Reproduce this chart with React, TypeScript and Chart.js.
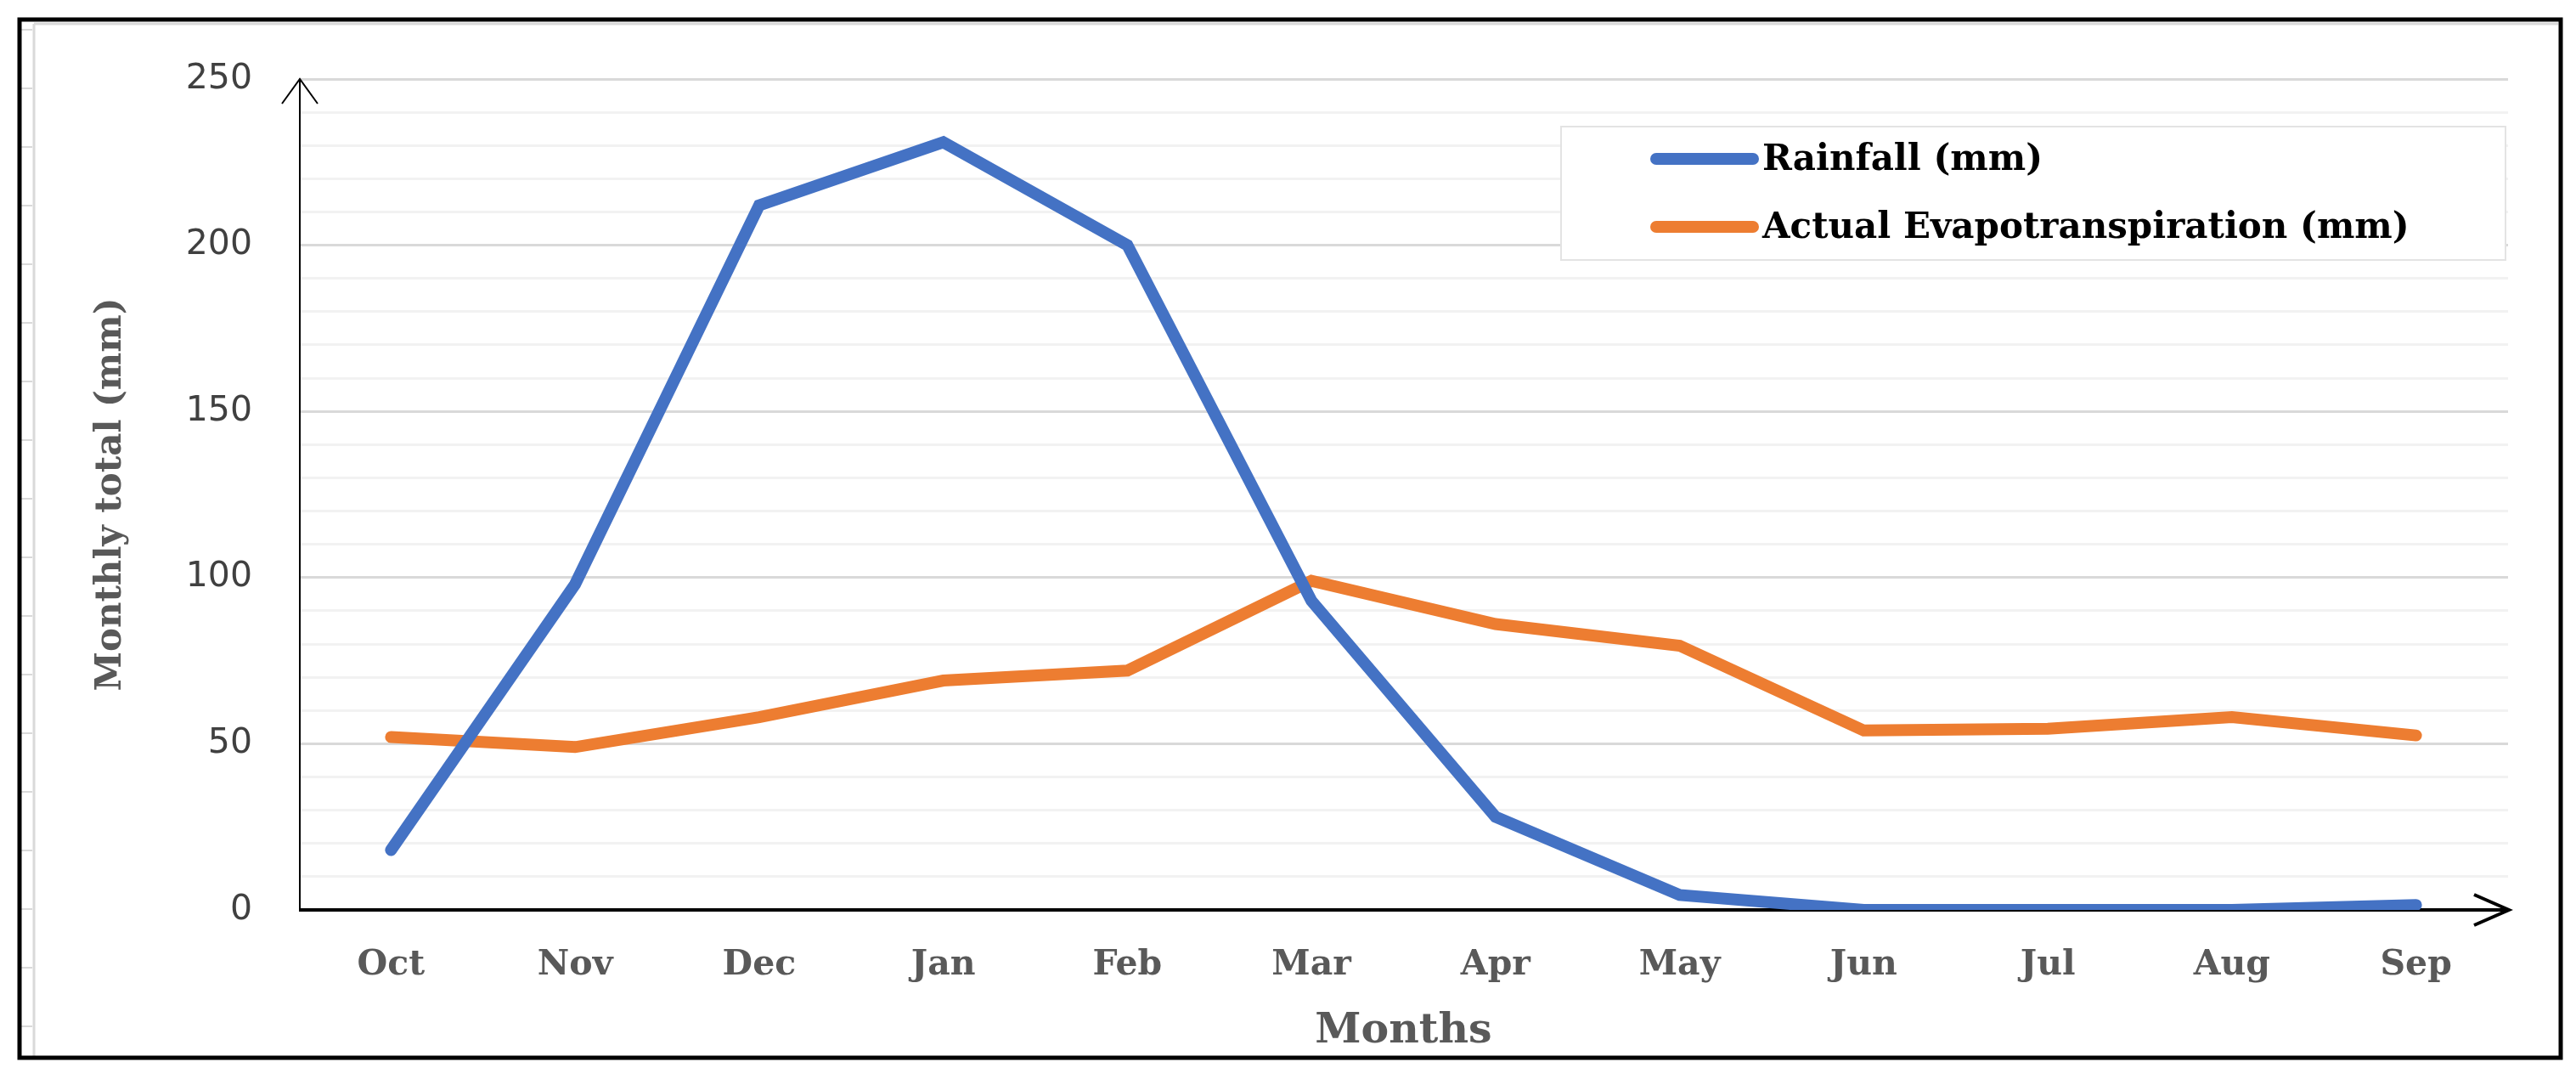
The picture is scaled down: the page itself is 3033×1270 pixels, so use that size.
import React, { useEffect, useRef } from "react";
import { Chart, registerables } from "chart.js";

Chart.register(...registerables);

const months = ["Oct", "Nov", "Dec", "Jan", "Feb", "Mar", "Apr", "May", "Jun", "Jul", "Aug", "Sep"];
const rainfall = [18, 98, 212, 231, 200, 93, 28, 4.5, 0, 0, 0, 1.5];
const evapotranspiration = [52, 49, 58, 69, 72, 99, 86, 79.5, 54, 54.5, 58, 52.5];
const seriesLabels = ["Rainfall (mm)", "Actual Evapotranspiration (mm)"];
const seriesColors = ["#4472C4", "#ED7D31"];
const yTickLabels = [0, 50, 100, 150, 200, 250];
const xTitle = "Months";
const yTitle = "Monthly total (mm)";

const W = 3033;
const H = 1270;

const decorPlugin = {
  id: "decor",
  beforeDraw(chart: any) {
    const ctx = chart.ctx;
    ctx.save();
    ctx.fillStyle = "#ffffff";
    ctx.fillRect(0, 0, chart.width, chart.height);
    // ruler-like gray guide lines inside the frame
    ctx.strokeStyle = "#D9D9D9";
    ctx.lineWidth = 3;
    ctx.beginPath();
    ctx.moveTo(40, 28);
    ctx.lineTo(40, 1245);
    ctx.moveTo(40, 28);
    ctx.lineTo(3012, 28);
    ctx.stroke();
    ctx.lineWidth = 2;
    ctx.beginPath();
    for (let y = 35; y < 1245; y += 69) {
      ctx.moveTo(25, y);
      ctx.lineTo(38, y);
    }
    ctx.stroke();
    ctx.restore();
  },
  beforeDatasetsDraw(chart: any) {
    const ctx = chart.ctx;
    const area = chart.chartArea;
    const y0 = chart.scales.y.getPixelForValue(0);
    const left = area.left + 1;
    ctx.save();
    ctx.strokeStyle = "#000000";
    ctx.lineCap = "butt";
    // y axis with arrow
    ctx.lineWidth = 2;
    ctx.beginPath();
    ctx.moveTo(left, y0);
    ctx.lineTo(left, area.top);
    ctx.moveTo(left - 21, area.top + 29);
    ctx.lineTo(left, area.top);
    ctx.lineTo(left + 21, area.top + 29);
    ctx.stroke();
    // x axis with arrow
    ctx.lineWidth = 4;
    ctx.beginPath();
    ctx.moveTo(area.left, y0);
    ctx.lineTo(area.right + 1, y0);
    ctx.stroke();
    ctx.beginPath();
    ctx.moveTo(area.right - 40, y0 - 18);
    ctx.lineTo(area.right + 1, y0);
    ctx.lineTo(area.right - 40, y0 + 18);
    ctx.stroke();
    ctx.restore();
  },
  afterDraw(chart: any) {
    const ctx = chart.ctx;
    ctx.save();
    // legend box
    const bx = 1838, by = 149, bw = 1112, bh = 157;
    ctx.fillStyle = "#ffffff";
    ctx.fillRect(bx, by, bw, bh);
    ctx.strokeStyle = "#E3E3E3";
    ctx.lineWidth = 2;
    ctx.strokeRect(bx, by, bw, bh);
    const rows = [187, 267];
    chart.data.datasets.forEach((ds: any, i: number) => {
      const y = rows[i];
      ctx.strokeStyle = ds.borderColor;
      ctx.lineWidth = 14;
      ctx.lineCap = "round";
      ctx.beginPath();
      ctx.moveTo(1950, y);
      ctx.lineTo(2064, y);
      ctx.stroke();
      ctx.fillStyle = "#000000";
      ctx.font = "bold 42px 'DejaVu Serif'";
      ctx.textAlign = "left";
      ctx.textBaseline = "middle";
      ctx.fillText(ds.label, 2075, y + 2);
    });
    // outer frame
    ctx.strokeStyle = "#000000";
    ctx.lineWidth = 5;
    ctx.strokeRect(23, 23, 2992, 1222);
    ctx.restore();
  },
};

export default function App() {
  const ref = useRef<HTMLCanvasElement | null>(null);
  useEffect(() => {
    if (!ref.current) return;
    const chart = new Chart(ref.current, {
      type: "line",
      data: {
        labels: months,
        datasets: [
          {
            label: seriesLabels[0],
            data: rainfall,
            borderColor: seriesColors[0],
            backgroundColor: seriesColors[0],
            borderWidth: 14,
            pointRadius: 0,
            tension: 0,
            borderCapStyle: "round",
            borderJoinStyle: "miter",
          },
          {
            label: seriesLabels[1],
            data: evapotranspiration,
            borderColor: seriesColors[1],
            backgroundColor: seriesColors[1],
            borderWidth: 14,
            pointRadius: 0,
            tension: 0,
            borderCapStyle: "round",
            borderJoinStyle: "miter",
          },
        ],
      },
      options: {
        responsive: false,
        maintainAspectRatio: false,
        animation: false,
        devicePixelRatio: 1,
        layout: { padding: { left: 0, top: 93, right: 80, bottom: 0 } },
        plugins: {
          legend: { display: false },
          tooltip: { enabled: false },
        },
        scales: {
          x: {
            type: "category",
            offset: true,
            grid: { display: false, drawTicks: false },
            border: { display: false },
            ticks: {
              color: "#595959",
              font: { family: "'DejaVu Serif'", size: 41, weight: "bold" },
              padding: 41,
              maxRotation: 0,
              autoSkip: false,
            },
            title: {
              display: true,
              text: xTitle,
              color: "#595959",
              font: { family: "'DejaVu Serif'", size: 49, weight: "bold" },
              padding: { top: 0, bottom: 26 },
            },
            afterFit(scale: any) {
              scale.height = 199;
            },
          },
          y: {
            min: 0,
            max: 250,
            grid: {
              drawTicks: false,
              lineWidth: 3,
              color: (c: any) => (c.tick && c.tick.value % 50 === 0 ? "#D9D9D9" : "#F2F2F2"),
            },
            border: { display: false },
            ticks: {
              stepSize: 10,
              autoSkip: false,
              color: "#404040",
              font: { family: "'DejaVu Sans'", size: 41 },
              padding: 55,
              callback: (v: any) => (yTickLabels.includes(Number(v)) ? String(v) : ""),
            },
            title: {
              display: true,
              text: yTitle,
              color: "#595959",
              font: { family: "'DejaVu Serif'", size: 42, weight: "bold" },
              padding: { top: 106, bottom: 0 },
            },
            afterFit(scale: any) {
              scale.width = 352;
            },
          },
        },
      },
      plugins: [decorPlugin],
    } as any);
    return () => chart.destroy();
  }, []);
  return (
    <div style={{ position: "absolute", left: 0, top: 0, width: W, height: H }}>
      <canvas ref={ref} width={W} height={H} style={{ display: "block", width: W, height: H }} />
    </div>
  );
}
